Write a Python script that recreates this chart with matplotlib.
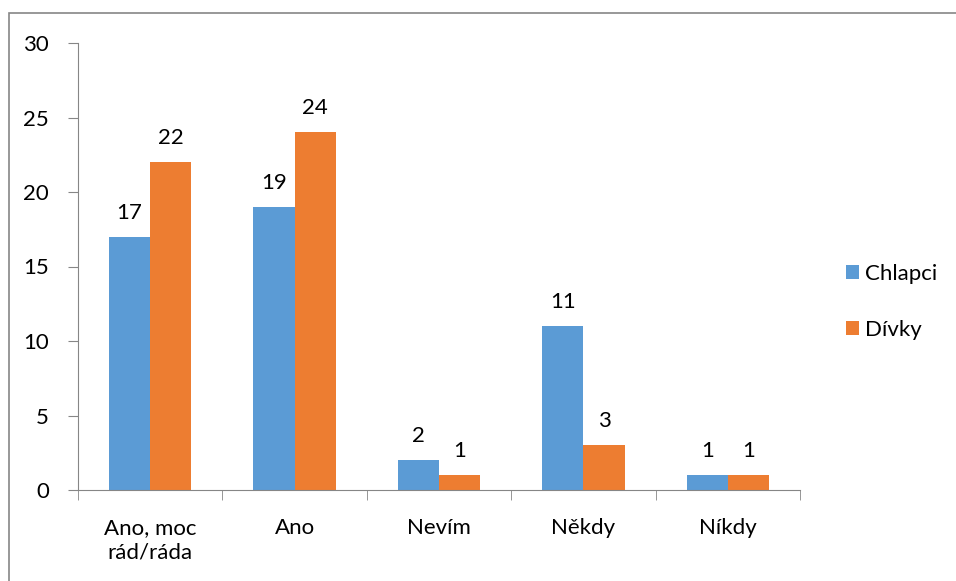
import numpy as np
import matplotlib.pyplot as plt
from matplotlib.patches import Rectangle

plt.rcParams["font.family"] = ["Lato", "DejaVu Sans"]
plt.rcParams["font.size"] = 16

categories = ["Ano, moc\nrád/ráda", "Ano", "Nevím", "Někdy", "Níkdy"]
chlapci = [17, 19, 2, 11, 1]
divky = [22, 24, 1, 3, 1]
yticks = [0, 5, 10, 15, 20, 25, 30]

blue = "#5B9BD5"
orange = "#ED7D31"
grey = "#868686"

fig = plt.figure(figsize=(9.56, 5.81), dpi=100)
ax = fig.add_axes([78 / 956, 1 - 490 / 581, 722 / 956, 447 / 581])

# chart area outline (only top/left visible in the frame)
fig.patches.append(Rectangle((9 / 956, -0.1), 1.2, 1 - 13 / 581 + 0.1,
                             transform=fig.transFigure, fill=False,
                             edgecolor=grey, linewidth=1.2))

x = np.arange(len(categories))
w = 0.285
b1 = ax.bar(x - w / 2, chlapci, w, color=blue, label="Chlapci")
b2 = ax.bar(x + w / 2, divky, w, color=orange, label="Dívky")

for bars, vals in ((b1, chlapci), (b2, divky)):
    for rect, v in zip(bars, vals):
        ax.text(rect.get_x() + rect.get_width() / 2, v + 0.95, str(v),
                ha="center", va="bottom", fontsize=16)

ax.set_xlim(-0.5, len(categories) - 0.5)
ax.set_ylim(0, 30)
ax.set_yticks(yticks)
ax.set_xticks(x)
ax.set_xticklabels(categories, linespacing=1.3)
ax.set_xticks(np.arange(len(categories) + 1) - 0.5, minor=True)
ax.tick_params(axis="x", which="major", length=0, pad=20)
ax.tick_params(axis="x", which="minor", length=7, color=grey, direction="out")
ax.tick_params(axis="y", length=7, color=grey, direction="out", pad=14)

for s in ("top", "right"):
    ax.spines[s].set_visible(False)
for s in ("left", "bottom"):
    ax.spines[s].set_color(grey)

ax.legend(loc="center left", bbox_to_anchor=(826 / 956, 1 - 302 / 581),
          bbox_transform=fig.transFigure, frameon=False, handlelength=0.6,
          handleheight=0.6, handletextpad=0.25, labelspacing=1.6, fontsize=16)

fig.savefig("out.png", dpi=100)
